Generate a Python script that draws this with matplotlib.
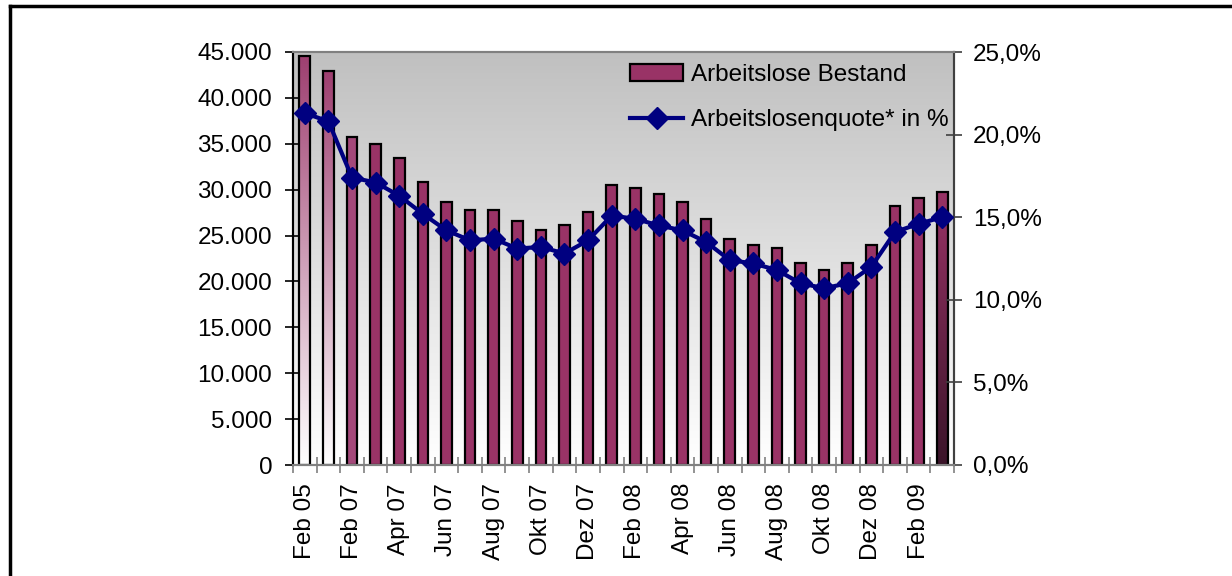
import numpy as np
import matplotlib
matplotlib.use("Agg")
import matplotlib.pyplot as plt
from matplotlib.colors import LinearSegmentedColormap
from matplotlib.lines import Line2D
from matplotlib.patches import Patch
from matplotlib.ticker import FuncFormatter, FixedLocator

plt.rcParams['font.family'] = ['Liberation Sans', 'DejaVu Sans']

# === Daten ===
monate = ["Feb 05", "Feb 06", "Feb 07", "Mär 07", "Apr 07", "Mai 07", "Jun 07",
          "Jul 07", "Aug 07", "Sep 07", "Okt 07", "Nov 07", "Dez 07", "Jan 08",
          "Feb 08", "Mär 08", "Apr 08", "Mai 08", "Jun 08", "Jul 08", "Aug 08",
          "Sep 08", "Okt 08", "Nov 08", "Dez 08", "Jan 09", "Feb 09", "Mär 09"]
bestand = [44600, 42900, 35700, 35000, 33400, 30800, 28650, 27800, 27800, 26550,
           25650, 26100, 27600, 30550, 30150, 29500, 28650, 26750, 24650, 24000,
           23600, 22050, 21250, 22050, 24000, 28200, 29100, 29800]
quote = [21.3, 20.8, 17.4, 17.1, 16.3, 15.2, 14.2, 13.6, 13.7, 13.1, 13.2, 12.8,
         13.6, 15.1, 14.9, 14.5, 14.2, 13.5, 12.4, 12.2, 11.8, 11.0, 10.7, 11.0,
         12.0, 14.1, 14.6, 15.0]

BAR = "#993366"
LINE = "#000080"
FS = 17.5

x = np.arange(len(monate))

fig = plt.figure(figsize=(12.32, 5.76), dpi=100)
ax = fig.add_axes([293/1232, 1-465/576, (954-293)/1232, (465-52)/576])

# Hintergrundverlauf grau -> weiss
bg = LinearSegmentedColormap.from_list("bg", ["#ffffff", "#c0c0c0"])
grad = np.linspace(0, 1, 256).reshape(-1, 1)
ax.imshow(grad, extent=[-0.5, len(x)-0.5, 0, 45000], origin='lower',
          aspect='auto', cmap=bg, zorder=0)

bars = ax.bar(x, bestand, width=0.45, color=BAR, edgecolor="black",
              linewidth=1.6, zorder=2)

# einzelne Balken mit Verlauf (wie im Original)
verlauf = {0: ["#ffffff", "#9e3f70"], 1: ["#ffffff", "#9e3f70"],
           27: ["#3a1429", "#993366"]}
for i, cols in verlauf.items():
    b = bars[i]
    b.set_facecolor("none")
    cm = LinearSegmentedColormap.from_list("b%d" % i, cols)
    im = ax.imshow(grad, extent=[b.get_x(), b.get_x()+b.get_width(), 0, b.get_height()],
                   origin='lower', aspect='auto', cmap=cm, zorder=1.9)
    im.set_clip_path(b)
bars[2].set_facecolor("#a4487a")

ax.set_xlim(-0.5, len(x)-0.5)
ax.set_ylim(0, 45000)
ax.set_yticks(np.arange(0, 45001, 5000))
ax.yaxis.set_major_formatter(FuncFormatter(lambda v, p: f"{int(v):,}".replace(",", ".")))
ax.tick_params(axis='y', direction='inout', length=11, width=1.2, pad=9.5,
               labelsize=FS, colors='black')

ax.set_xticks(x[::2])
ax.set_xticklabels(monate[::2], rotation=90)
ax.xaxis.set_minor_locator(FixedLocator(np.arange(-0.5, len(x), 1)))
ax.tick_params(axis='x', which='major', length=0, pad=13, labelsize=FS)
ax.tick_params(axis='x', which='minor', direction='inout', length=11,
               width=1.2, color='#808080')

ax2 = ax.twinx()
ax2.plot(x, quote, color=LINE, lw=3, marker='D', markersize=11,
         markeredgecolor=LINE, zorder=3)
ax2.set_ylim(0, 25)
ax2.set_yticks(np.arange(0, 25.1, 5))
ax2.yaxis.set_major_formatter(FuncFormatter(lambda v, p: f"{v:.1f}%".replace(".", ",")))
ax2.tick_params(axis='y', direction='inout', length=11, width=1.2, pad=8,
                labelsize=FS, color='#404040')

for a in (ax, ax2):
    a.spines['left'].set_color('black')
    a.spines['top'].set_color('#808080')
    a.spines['bottom'].set_color('#808080')
    a.spines['right'].set_color('#404040')
    for s in a.spines.values():
        s.set_linewidth(1.5)

handles = [Patch(facecolor=BAR, edgecolor='black', linewidth=1.6),
           Line2D([], [], color=LINE, lw=3, marker='D', markersize=11)]
fig.legend(handles, ["Arbeitslose Bestand", "Arbeitslosenquote* in %"],
           loc='upper left', bbox_to_anchor=(630/1232, 1-64/576), frameon=False,
           fontsize=FS, handlelength=2.2, handletextpad=0.3, labelspacing=0.95,
           borderpad=0, borderaxespad=0)

# Rahmen oben und links
fig.add_artist(Line2D([10/1232, 1], [1-6/576, 1-6/576], color='black', lw=2.5,
                      transform=fig.transFigure))
fig.add_artist(Line2D([10/1232, 10/1232], [0, 1-6/576], color='black', lw=2.5,
                      transform=fig.transFigure))

fig.savefig("out.png", dpi=100)
